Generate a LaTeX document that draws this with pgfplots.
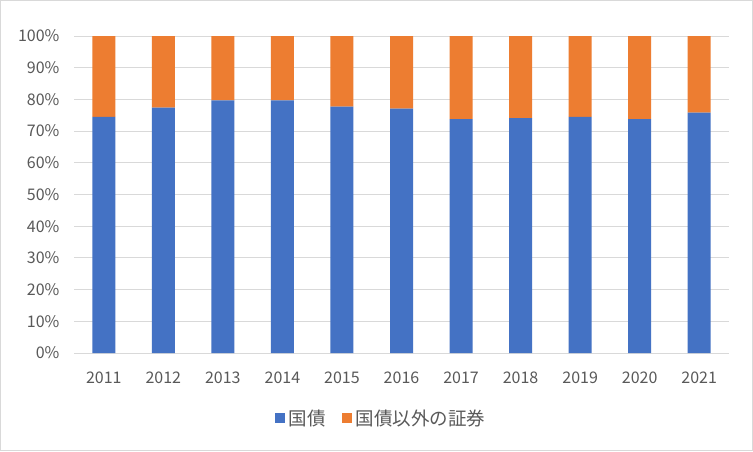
\documentclass[border=0pt]{standalone}
\usepackage{fontspec}
\setmainfont{Noto Sans CJK JP}
\usepackage{pgfplots}
\pgfplotsset{compat=1.18}
\definecolor{cblue}{HTML}{4472C4}
\definecolor{corange}{HTML}{ED7D31}
\definecolor{cgrid}{HTML}{D9D9D9}
\definecolor{ctext}{HTML}{595959}
\begin{document}
\begin{tikzpicture}[x=1pt,y=1pt]
\fill[white] (0,0) rectangle (753,451);
\draw[cgrid, line width=1pt] (0.5,0.5) rectangle (752.5,450.5);
\begin{axis}[
  at={(74pt,98pt)}, anchor=south west,
  scale only axis, width=655pt, height=317pt,
  ybar stacked, bar width=23pt,
  xmin=-0.5, xmax=10.5, ymin=0, ymax=100,
  xtick=data, xticklabels={2011,2012,2013,2014,2015,2016,2017,2018,2019,2020,2021},
  ytick={0,10,...,100}, yticklabel={\pgfmathprintnumber{\tick}\%},
  ymajorgrids, grid style={cgrid, line width=1pt},
  axis line style={draw=none},
  major tick length=0pt,
  tick label style={text=ctext, font=\fontsize{16}{18}\selectfont},
  /pgf/number format/assume math mode=true,
  xticklabel style={yshift=-15pt},
  yticklabel style={xshift=-11pt},
  legend style={at={(0.4687,-0.205)}, anchor=center, draw=none, fill=none,
    legend columns=2, font=\fontsize{18.5}{20}\selectfont, text=ctext,
    /tikz/every even column/.append style={column sep=14pt},
    /tikz/every odd column/.append style={column sep=2pt}},
  legend image code/.code={\path[#1,draw=none] (0pt,-5pt) rectangle (10pt,5pt);},
]
\addplot[fill=cblue, draw=none] coordinates {(0,74.5) (1,77.4) (2,79.7) (3,79.7) (4,77.7) (5,77.1) (6,73.8) (7,74.1) (8,74.5) (9,73.8) (10,75.8)};
\addplot[fill=corange, draw=none] coordinates {(0,25.5) (1,22.6) (2,20.3) (3,20.3) (4,22.3) (5,22.9) (6,26.2) (7,25.9) (8,25.5) (9,26.2) (10,24.2)};
\legend{国債,国債以外の証券}
\end{axis}
\end{tikzpicture}
\end{document}
